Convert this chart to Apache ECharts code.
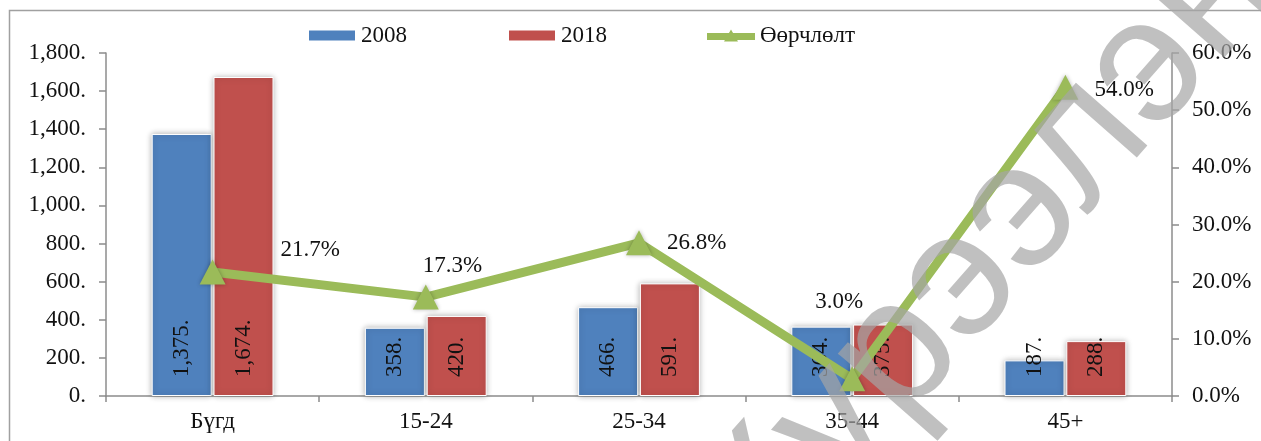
<!DOCTYPE html>
<html>
<head>
<meta charset="utf-8">
<script src="https://cdn.jsdelivr.net/npm/echarts@6/dist/echarts.min.js"></script>
<style>
  html, body { margin: 0; padding: 0; background: #fff; }
  #chart { width: 1261px; height: 441px; }
</style>
</head>
<body>
<div id="chart"></div>
<script>
const categories = ['Бүгд', '15-24', '25-34', '35-44', '45+']
const values2008 = [1375, 358, 466, 364, 187]
const values2018 = [1674, 420, 591, 375, 288]
const changePct = [21.7, 17.3, 26.8, 3.0, 54.0]
// label offsets for the change line, one per point
const changeLabelOffset = [[52, -22], [-19, -31], [12, 0], [-53, -77], [13, 3]]

const FONT = 'Liberation Serif'
const chart = echarts.init(document.getElementById('chart'))

function barLabel() {
  return {
    show: true,
    position: 'insideBottom',
    rotate: 90,
    align: 'left',
    verticalAlign: 'middle',
    distance: 19,
    fontFamily: FONT,
    fontSize: 23,
    color: '#111',
    formatter: p => p.value.toLocaleString('en-US') + '.'
  }
}

const barItem = color => ({
  color: color,
  borderColor: '#fff',
  borderWidth: 1,
  shadowColor: 'rgba(0,0,0,0.3)',
  shadowBlur: 6
})

chart.setOption({
  animation: false,
  textStyle: { fontFamily: FONT },
  graphic: [
    {
      type: 'rect',
      shape: { x: 9.5, y: 10.5, width: 1400, height: 600 },
      style: { fill: 'none', stroke: '#a0a0a0', lineWidth: 1.5 },
      z: -1
    },
    {
      // watermark
      type: 'text',
      x: 985, y: 255,
      rotation: 0.85,
      z: 100,
      style: {
        text: 'Хүрээлэн',
        fontFamily: 'Liberation Sans',
        fontSize: 180,
        fill: 'rgba(165,165,165,0.7)',
        align: 'center',
        verticalAlign: 'middle'
      }
    }
  ],
  legend: {
    top: 19,
    left: 302,
    itemWidth: 48,
    itemHeight: 12,
    itemGap: 100,
    textStyle: { fontFamily: FONT, fontSize: 23, color: '#111' },
    data: [
      { name: '2008', icon: 'rect' },
      { name: '2018', icon: 'rect' },
      { name: 'Өөрчлөлт', icon: 'path://M0,3.5 H48 V10.5 H0 Z M17,12 L24,0 L31,12 Z' }
    ]
  },
  grid: { left: 106, right: 89, top: 53, bottom: 45 },
  xAxis: {
    type: 'category',
    data: categories,
    axisLine: { lineStyle: { color: '#8c8c8c', width: 1.5 } },
    axisTick: { show: true, length: 6, lineStyle: { color: '#8c8c8c', width: 1.5 } },
    axisLabel: { fontFamily: FONT, fontSize: 23, color: '#111', margin: 14 }
  },
  yAxis: [
    {
      type: 'value',
      min: 0, max: 1800, interval: 200,
      splitLine: { show: false },
      axisLine: { show: true, lineStyle: { color: '#8c8c8c', width: 1.5 } },
      axisTick: { show: true, length: 7, lineStyle: { color: '#8c8c8c', width: 1.5 } },
      axisLabel: {
        fontFamily: FONT, fontSize: 23, color: '#111', margin: 20,
        formatter: v => v.toLocaleString('en-US') + '.'
      }
    },
    {
      type: 'value',
      min: 0, max: 60, interval: 10,
      position: 'right',
      splitLine: { show: false },
      axisLine: { show: true, lineStyle: { color: '#8c8c8c', width: 1.5 } },
      axisTick: { show: true, length: 7, lineStyle: { color: '#8c8c8c', width: 1.5 } },
      axisLabel: {
        fontFamily: FONT, fontSize: 23, color: '#111', margin: 20,
        formatter: v => v.toFixed(1) + '%'
      }
    }
  ],
  series: [
    {
      name: '2008',
      type: 'bar',
      barWidth: 60,
      barGap: '3%',
      data: values2008,
      itemStyle: barItem('#4F81BD'),
      label: barLabel()
    },
    {
      name: '2018',
      type: 'bar',
      barWidth: 60,
      data: values2018,
      itemStyle: barItem('#C0504D'),
      label: barLabel()
    },
    {
      name: 'Өөрчлөлт',
      type: 'line',
      yAxisIndex: 1,
      z: 5,
      symbol: 'triangle',
      symbolSize: [26, 25],
      lineStyle: { color: '#9BBB59', width: 9 },
      itemStyle: { color: '#9BBB59', shadowColor: 'rgba(0,0,0,0.3)', shadowBlur: 4 },
      data: changePct.map((v, i) => ({
        value: v,
        label: { offset: changeLabelOffset[i] }
      })),
      label: {
        show: true,
        position: 'right',
        distance: 3,
        fontFamily: FONT,
        fontSize: 23,
        color: '#111',
        formatter: p => p.value.toFixed(1) + '%'
      }
    }
  ]
})
</script>
</body>
</html>
